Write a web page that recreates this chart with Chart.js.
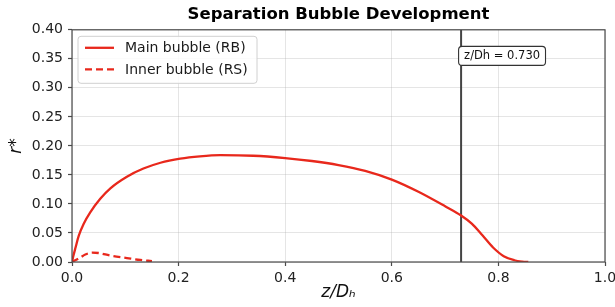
<!DOCTYPE html>
<html><head><meta charset="utf-8">
<script src="https://cdn.jsdelivr.net/npm/chart.js@4/dist/chart.umd.min.js"></script>
<style>html,body{margin:0;padding:0;background:#fff;overflow:hidden}#wrap{width:615px;height:307px;position:relative}</style>
</head><body><div id="wrap"><canvas id="c" width="615" height="307"></canvas></div>
<script>
// ---- data ----
const mainZ = [0, 0.003, 0.0064, 0.0126, 0.022, 0.0345, 0.053, 0.072, 0.103, 0.134, 0.166, 0.203, 0.24, 0.278, 0.34, 0.40, 0.45, 0.50, 0.55, 0.60, 0.65, 0.70, 0.73, 0.75, 0.77, 0.79, 0.81, 0.83, 0.845, 0.856];
const mainR = [0, 0.012, 0.024, 0.045, 0.066, 0.086, 0.109, 0.127, 0.147, 0.161, 0.171, 0.178, 0.182, 0.184, 0.183, 0.179, 0.174, 0.167, 0.157, 0.142, 0.121, 0.096, 0.080, 0.066, 0.046, 0.025, 0.010, 0.003, 0.0007, 0];
const innerZ = [0.0, 0.008, 0.016, 0.025, 0.038, 0.05, 0.072, 0.103, 0.128, 0.150];
const innerR = [0.0, 0.004, 0.008, 0.013, 0.016, 0.0155, 0.011, 0.0068, 0.0035, 0.0015];
const markerZ = 0.73;
const xTicks = [0, 0.2, 0.4, 0.6, 0.8, 1.0];
const yTicks = [0, 0.05, 0.10, 0.15, 0.20, 0.25, 0.30, 0.35, 0.40];
const seriesLabels = ['Main bubble (RB)', 'Inner bubble (RS)'];
const titleText = 'Separation Bubble Development';
const xTitle = 'z/D\u2095';
const yTitle = 'r*';
const markerLabel = 'z/Dh = ' + markerZ.toFixed(3);
const annotY = 0.355;

const RED = '#e8281c';
const FONT = "'DejaVu Sans', 'Liberation Sans', sans-serif";

const toXY = (xs, ys) => xs.map((x, i) => ({x: x, y: ys[i]}));

const decor = {
  id: 'decor',
  afterDraw(chart) {
    const ctx = chart.ctx, a = chart.chartArea;
    const xs = chart.scales.x, ys = chart.scales.y;
    ctx.save();
    // spines
    ctx.strokeStyle = '#4a4a4a';
    ctx.lineWidth = 1.2;
    ctx.strokeRect(a.left, a.top, a.right - a.left, a.bottom - a.top);

    // title centred over the plot area
    ctx.font = 'bold 16.5px ' + FONT;
    ctx.fillStyle = '#000';
    ctx.textAlign = 'center';
    ctx.textBaseline = 'middle';
    ctx.fillText(titleText, (a.left + a.right) / 2, 15);

    // annotation box
    ctx.font = '11.5px ' + FONT;
    ctx.textBaseline = 'middle';
    ctx.textAlign = 'left';
    const tx = xs.getPixelForValue(markerZ) + 3;
    const ty = ys.getPixelForValue(annotY);
    const tw = ctx.measureText(markerLabel).width;
    ctx.beginPath();
    ctx.roundRect(tx - 5.5, ty - 9.5, tw + 11, 19, 3.5);
    ctx.fillStyle = '#ffffff';
    ctx.fill();
    ctx.strokeStyle = '#333333';
    ctx.lineWidth = 1.1;
    ctx.stroke();
    ctx.fillStyle = '#111';
    ctx.fillText(markerLabel, tx, ty + 0.5);

    // legend
    const lx = a.left + 6, ly = a.top + 6.5;
    ctx.beginPath();
    ctx.roundRect(lx, ly, 179, 47, 3);
    ctx.fillStyle = 'rgba(255,255,255,0.85)';
    ctx.fill();
    ctx.strokeStyle = '#d0d0d0';
    ctx.lineWidth = 1;
    ctx.stroke();
    const rows = [ly + 11.5, ly + 33];
    chart.data.datasets.slice(0, 2).forEach((ds, i) => {
      ctx.beginPath();
      ctx.strokeStyle = ds.borderColor;
      ctx.lineWidth = ds.borderWidth;
      ctx.setLineDash(ds.borderDash || []);
      ctx.moveTo(lx + 7, rows[i]);
      ctx.lineTo(lx + 36, rows[i]);
      ctx.stroke();
      ctx.setLineDash([]);
      ctx.font = '14px ' + FONT;
      ctx.fillStyle = '#1a1a1a';
      ctx.textBaseline = 'middle';
      ctx.fillText(ds.label, lx + 47, rows[i] + 1);
    });
    ctx.restore();
  }
};

new Chart(document.getElementById('c'), {
  type: 'line',
  data: {
    datasets: [
      {label: seriesLabels[0], data: toXY(mainZ, mainR), borderColor: RED, borderWidth: 2.3, pointRadius: 0, fill: false, cubicInterpolationMode: 'monotone'},
      {label: seriesLabels[1], data: toXY(innerZ, innerR), borderColor: RED, borderWidth: 2.3, borderDash: [7, 4], pointRadius: 0, fill: false, cubicInterpolationMode: 'monotone'},
      {label: 'marker', data: [{x: markerZ, y: 0}, {x: markerZ, y: 0.4}], borderColor: '#444444', borderWidth: 2, pointRadius: 0, fill: false}
    ]
  },
  options: {
    responsive: false,
    animation: false,
    devicePixelRatio: 1,
    layout: {padding: {left: 0, right: 10, top: 29.8, bottom: 0}},
    plugins: {
      legend: {display: false},
      tooltip: {enabled: false},
      title: {display: false}
    },
    scales: {
      x: {
        type: 'linear', min: 0, max: 1,
        afterBuildTicks: s => { s.ticks = xTicks.map(v => ({value: v})); },
        afterFit: s => { s.height = 45; s.paddingLeft = 0; s.paddingRight = 0; },
        ticks: {callback: v => Number(v).toFixed(1), color: '#222', font: {family: FONT, size: 14}, padding: 4, maxRotation: 0, autoSkip: false},
        grid: {color: 'rgba(170,170,170,0.3)', lineWidth: 1, tickColor: '#4a4a4a', tickLength: 4, tickWidth: 1.2},
        border: {display: false},
        title: {display: true, text: xTitle, color: '#111', font: {family: FONT, size: 17, style: 'italic'}, padding: {top: 0, bottom: 4}}
      },
      y: {
        type: 'linear', min: 0, max: 0.4,
        afterBuildTicks: s => { s.ticks = yTicks.map(v => ({value: v})); },
        afterFit: s => { s.width = 72; s.paddingTop = 0; s.paddingBottom = 0; },
        ticks: {callback: v => Number(v).toFixed(2), color: '#222', font: {family: FONT, size: 14}, padding: 5},
        grid: {color: 'rgba(170,170,170,0.3)', lineWidth: 1, tickColor: '#4a4a4a', tickLength: 4, tickWidth: 1.2},
        border: {display: false},
        title: {display: true, text: yTitle, color: '#111', font: {family: FONT, size: 17, style: 'italic'}, padding: {top: 6, bottom: 0}}
      }
    }
  },
  plugins: [decor]
});
</script>
</body></html>
